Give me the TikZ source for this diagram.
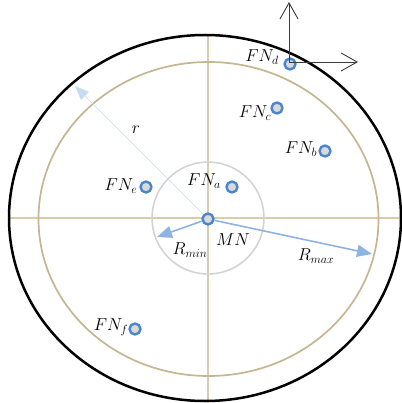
\documentclass[tikz,border=0pt]{standalone}
\usepackage{tikz}
\usetikzlibrary{arrows.meta, positioning}
\definecolor{fnblue}{HTML}{4A86CF}
\definecolor{fnfill}{HTML}{D9D9D9}
\definecolor{crosstan}{HTML}{D6CCAE}
\definecolor{ringtan}{HTML}{C4B690}
\definecolor{zonegrey}{HTML}{D2D2D2}
\definecolor{radblue}{HTML}{8DB3E2}
\definecolor{rlight}{HTML}{C6DBF2}
\definecolor{axdark}{HTML}{3A3A3A}

\begin{document}
\begin{tikzpicture}[x=1pt, y=-1pt, font=\fontsize{17}{20}\selectfont, line join=round,
    fnode/.style={circle, draw=fnblue, fill=fnfill, line width=2.4pt,
                  minimum size=11pt, inner sep=0pt},
    lbl/.style={inner sep=0pt},
    radarrow/.style={radblue, line width=1.6pt, -{Triangle[length=15pt, width=12pt]}},
    axarrow/.style={axdark, line width=0.9pt, -{Straight Barb[length=16pt, width=18pt]}}]
  \useasboundingbox (0,0) rectangle (401,403);
  % rings and cross lines
  \draw[crosstan, line width=1.6pt] (9,218) -- (401,218);
  \draw[crosstan, line width=1.6pt] (208,35) -- (208,403);
  \draw[ringtan, line width=1.7pt] (208.5,219) ellipse [x radius=170, y radius=157];
  \draw[black, line width=2.5pt] (205,218) ellipse [x radius=196, y radius=183];
  \draw[zonegrey, line width=1.5pt] (208,218) circle [radius=56];

  % nodes
  \node[fnode] (MN) at (208,219) {};
  \node[fnode] (FNa) at (232,187) {};
  \node[fnode] (FNb) at (325,151) {};
  \node[fnode] (FNc) at (277,108) {};
  \node[fnode] (FNd) at (290,64) {};
  \node[fnode] (FNe) at (146,187) {};
  \node[fnode] (FNf) at (135,329) {};

  \node[lbl] (la) at (204,181) {$FN_a$};
  \node[lbl] (lb) at (301,149) {$FN_b$};
  \node[lbl] (lc) at (255,113) {$FN_c$};
  \node[lbl] (ld) at (262,57) {$FN_d$};
  \node[lbl] (le) at (121,186) {$FN_e$};
  \node[lbl] (lf) at (111,327) {$FN_f$};
  \node[lbl] (lmn) at (233,240) {$MN$};

  % radii
  \coordinate (rtip) at (75,86);
  \coordinate (rmintip) at (157,237);
  \coordinate (rmaxtip) at (372,254);
  \draw[rlight, line width=0.6pt, -{Triangle[length=14pt, width=11pt]}] (MN) -- (rtip);
  \draw[radarrow] (MN) -- (rmintip);
  \draw[radarrow] (MN) -- (rmaxtip);
  \node[lbl] (lr) at (136,130) {$r$};
  \node[lbl] (lrmin) at (190,250) {$R_{min}$};
  \node[lbl] (lrmax) at (316,256) {$R_{max}$};

  % local axes
  \coordinate (ax0) at (289,62);
  \coordinate (axy) at (289,2);
  \coordinate (axx) at (358,62);
  \draw[axarrow] (ax0) -- (axy);
  \draw[axarrow] (ax0) -- (axx);
\end{tikzpicture}
\end{document}
